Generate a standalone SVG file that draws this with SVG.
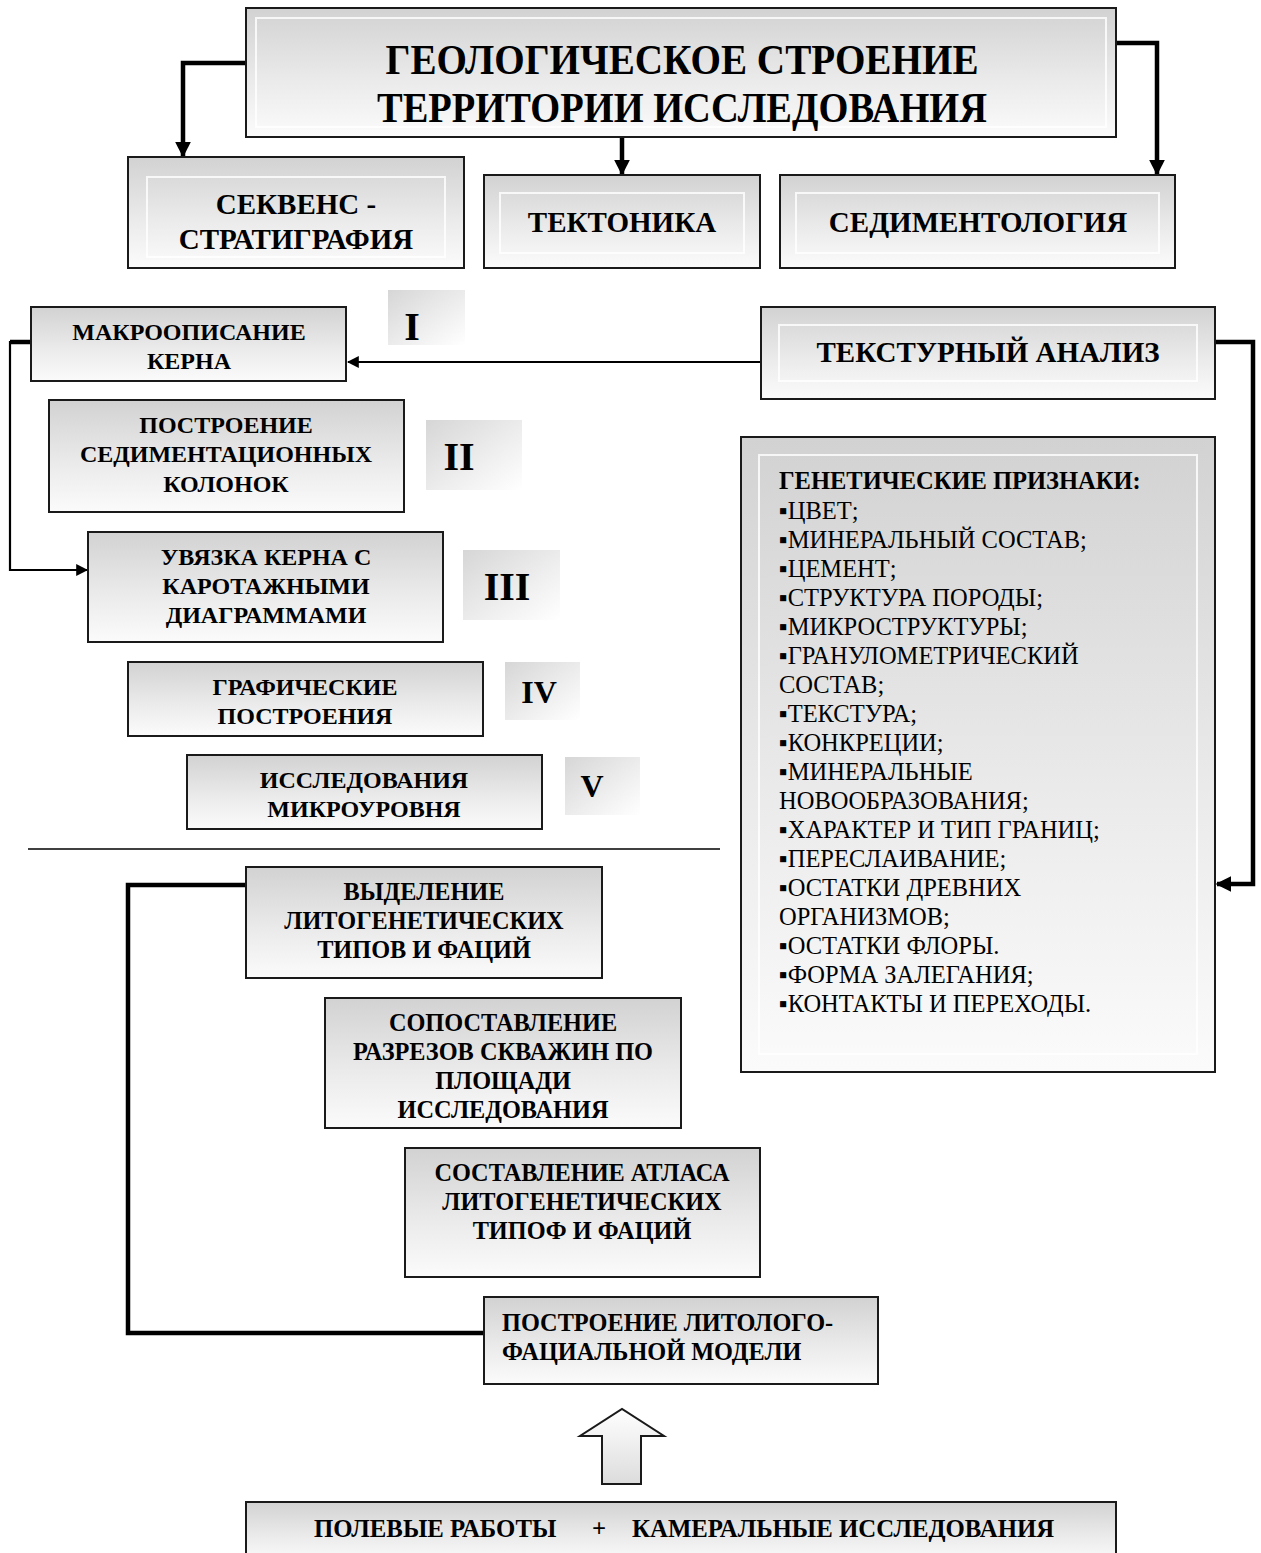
<svg xmlns="http://www.w3.org/2000/svg" width="1261" height="1553" viewBox="0 0 1261 1553">
<defs>
<linearGradient id="gBox" x1="0" y1="0" x2="0" y2="1">
<stop offset="0" stop-color="#d2d2d2"/>
<stop offset="0.55" stop-color="#eaeaea"/>
<stop offset="1" stop-color="#fbfbfb"/>
</linearGradient>
<linearGradient id="gNum" x1="0" y1="0" x2="1" y2="1">
<stop offset="0" stop-color="#d6d6d6"/>
<stop offset="0.6" stop-color="#efefef"/>
<stop offset="1" stop-color="#ffffff"/>
</linearGradient>
<linearGradient id="gArrow" x1="0" y1="0" x2="0" y2="1">
<stop offset="0" stop-color="#ffffff"/>
<stop offset="1" stop-color="#dcdcdc"/>
</linearGradient>
<marker id="ah" viewBox="0 0 10 10" refX="9" refY="5" markerWidth="16" markerHeight="16" markerUnits="userSpaceOnUse" orient="auto">
<path d="M0,0 L10,5 L0,10 Z" fill="#000"/>
</marker>
<marker id="ahs" viewBox="0 0 10 10" refX="9" refY="5" markerWidth="12" markerHeight="12" markerUnits="userSpaceOnUse" orient="auto">
<path d="M0,0 L10,5 L0,10 Z" fill="#000"/>
</marker>
</defs>
<style>
.box{fill:url(#gBox);stroke:#1a1a1a;stroke-width:2}
.inner{fill:none;stroke:#ffffff;stroke-width:2;opacity:0.8}
.num{fill:url(#gNum)}
.t{font-family:"Liberation Serif","Times New Roman",serif;font-weight:bold;fill:#000;text-anchor:middle}
.tl{font-family:"Liberation Serif","Times New Roman",serif;font-weight:bold;fill:#000}
.li{font-family:"Liberation Serif","Times New Roman",serif;fill:#000;font-size:24.5px}
.thick{fill:none;stroke:#000;stroke-width:4.5}
.thin{fill:none;stroke:#000;stroke-width:2.2}
</style>
<rect width="1261" height="1553" fill="#ffffff"/>

<g id="connectors">
<path class="thick" d="M246,63 H183 V156" marker-end="url(#ah)"/>
<path class="thick" d="M622,137 V174" marker-end="url(#ah)"/>
<path class="thick" d="M1116,43 H1157 V174" marker-end="url(#ah)"/>
<path class="thin" d="M761,362 H348" marker-end="url(#ahs)"/>
<path class="thick" d="M31,342 H10"/>
<path class="thin" d="M10,341 V570 H87" marker-end="url(#ahs)"/>
<path class="thick" d="M1215,342 H1253 V884 H1217" marker-end="url(#ah)"/>
<path class="thick" d="M484,1333 H128 V885 H246"/>
<line x1="28" y1="849" x2="720" y2="849" stroke="#000" stroke-width="1.5"/>
</g>

<g id="n-title">
<rect class="box" x="246" y="8" width="870" height="129"/>
<rect class="inner" x="256" y="18" width="850" height="109"/>
<text class="t" x="682" y="74" font-size="43" textLength="593" lengthAdjust="spacingAndGlyphs">ГЕОЛОГИЧЕСКОЕ  СТРОЕНИЕ</text>
<text class="t" x="682" y="122" font-size="43" textLength="610" lengthAdjust="spacingAndGlyphs">ТЕРРИТОРИИ ИССЛЕДОВАНИЯ</text>
</g>

<g id="n-sekvens">
<rect class="box" x="128" y="157" width="336" height="111"/>
<rect class="inner" x="147" y="177" width="298" height="80"/>
<text class="t" x="296" y="214" font-size="29">СЕКВЕНС -</text>
<text class="t" x="296" y="249" font-size="29">СТРАТИГРАФИЯ</text>
</g>

<g id="n-tekt">
<rect class="box" x="484" y="175" width="276" height="93"/>
<rect class="inner" x="500" y="193" width="244" height="60"/>
<text class="t" x="622" y="232" font-size="29">ТЕКТОНИКА</text>
</g>

<g id="n-sedim">
<rect class="box" x="780" y="175" width="395" height="93"/>
<rect class="inner" x="796" y="193" width="363" height="60"/>
<text class="t" x="978" y="232" font-size="29">СЕДИМЕНТОЛОГИЯ</text>
</g>

<g id="n-macro">
<rect class="box" x="31" y="307" width="315" height="74"/>
<text class="t" x="189" y="340" font-size="24">МАКРООПИСАНИЕ</text>
<text class="t" x="189" y="369" font-size="24">КЕРНА</text>
</g>
<g id="n-num1">
<rect class="num" x="388" y="290" width="77" height="55"/>
<text class="t" x="412" y="340" font-size="40">I</text>
</g>

<g id="n-sedcol">
<rect class="box" x="49" y="400" width="355" height="112"/>
<text class="t" x="226" y="433" font-size="24">ПОСТРОЕНИЕ</text>
<text class="t" x="226" y="462" font-size="24">СЕДИМЕНТАЦИОННЫХ</text>
<text class="t" x="226" y="492" font-size="24">КОЛОНОК</text>
</g>
<g id="n-num2">
<rect class="num" x="426" y="420" width="96" height="70"/>
<text class="t" x="459" y="470" font-size="40">II</text>
</g>

<g id="n-uvyazka">
<rect class="box" x="88" y="532" width="355" height="110"/>
<text class="t" x="266" y="565" font-size="24">УВЯЗКА КЕРНА С</text>
<text class="t" x="266" y="594" font-size="24">КАРОТАЖНЫМИ</text>
<text class="t" x="266" y="623" font-size="24">ДИАГРАММАМИ</text>
</g>
<g id="n-num3">
<rect class="num" x="463" y="550" width="97" height="70"/>
<text class="t" x="507" y="600" font-size="40">III</text>
</g>

<g id="n-graf">
<rect class="box" x="128" y="662" width="355" height="74"/>
<text class="t" x="305" y="695" font-size="24">ГРАФИЧЕСКИЕ</text>
<text class="t" x="305" y="724" font-size="24">ПОСТРОЕНИЯ</text>
</g>
<g id="n-num4">
<rect class="num" x="505" y="662" width="75" height="58"/>
<text class="t" x="539" y="703" font-size="32">IV</text>
</g>

<g id="n-micro">
<rect class="box" x="187" y="755" width="355" height="74"/>
<text class="t" x="364" y="788" font-size="24">ИССЛЕДОВАНИЯ</text>
<text class="t" x="364" y="817" font-size="24">МИКРОУРОВНЯ</text>
</g>
<g id="n-num5">
<rect class="num" x="565" y="757" width="75" height="58"/>
<text class="t" x="592" y="797" font-size="32">V</text>
</g>

<g id="n-texture">
<rect class="box" x="761" y="307" width="454" height="92"/>
<rect class="inner" x="779" y="325" width="418" height="56"/>
<text class="t" x="988" y="362" font-size="29">ТЕКСТУРНЫЙ АНАЛИЗ</text>
</g>

<g id="n-genetic">
<rect class="box" x="741" y="437" width="474" height="635"/>
<rect class="inner" x="759" y="455" width="438" height="599"/>
<text class="tl" x="779" y="489" font-size="24.5">ГЕНЕТИЧЕСКИЕ  ПРИЗНАКИ:</text>
<text class="li" x="779" y="519">▪ЦВЕТ;</text>
<text class="li" x="779" y="548">▪МИНЕРАЛЬНЫЙ СОСТАВ;</text>
<text class="li" x="779" y="577">▪ЦЕМЕНТ;</text>
<text class="li" x="779" y="606">▪СТРУКТУРА ПОРОДЫ;</text>
<text class="li" x="779" y="635">▪МИКРОСТРУКТУРЫ;</text>
<text class="li" x="779" y="664">▪ГРАНУЛОМЕТРИЧЕСКИЙ</text>
<text class="li" x="779" y="693">СОСТАВ;</text>
<text class="li" x="779" y="722">▪ТЕКСТУРА;</text>
<text class="li" x="779" y="751">▪КОНКРЕЦИИ;</text>
<text class="li" x="779" y="780">▪МИНЕРАЛЬНЫЕ</text>
<text class="li" x="779" y="809">НОВООБРАЗОВАНИЯ;</text>
<text class="li" x="779" y="838">▪ХАРАКТЕР И ТИП ГРАНИЦ;</text>
<text class="li" x="779" y="867">▪ПЕРЕСЛАИВАНИЕ;</text>
<text class="li" x="779" y="896">▪ОСТАТКИ ДРЕВНИХ</text>
<text class="li" x="779" y="925">ОРГАНИЗМОВ;</text>
<text class="li" x="779" y="954">▪ОСТАТКИ ФЛОРЫ.</text>
<text class="li" x="779" y="983">▪ФОРМА ЗАЛЕГАНИЯ;</text>
<text class="li" x="779" y="1012">▪КОНТАКТЫ И ПЕРЕХОДЫ.</text>
</g>

<g id="n-vydel">
<rect class="box" x="246" y="867" width="356" height="111"/>
<text class="t" x="424" y="900" font-size="24.3">ВЫДЕЛЕНИЕ</text>
<text class="t" x="424" y="929" font-size="24.3">ЛИТОГЕНЕТИЧЕСКИХ</text>
<text class="t" x="424" y="958" font-size="24.3">ТИПОВ И ФАЦИЙ</text>
</g>

<g id="n-sopost">
<rect class="box" x="325" y="998" width="356" height="130"/>
<text class="t" x="503" y="1031" font-size="24.3">СОПОСТАВЛЕНИЕ</text>
<text class="t" x="503" y="1060" font-size="24.3">РАЗРЕЗОВ СКВАЖИН ПО</text>
<text class="t" x="503" y="1089" font-size="24.3">ПЛОЩАДИ</text>
<text class="t" x="503" y="1118" font-size="24.3">ИССЛЕДОВАНИЯ</text>
</g>

<g id="n-atlas">
<rect class="box" x="405" y="1148" width="355" height="129"/>
<text class="t" x="582" y="1181" font-size="24.3">СОСТАВЛЕНИЕ АТЛАСА</text>
<text class="t" x="582" y="1210" font-size="24.3">ЛИТОГЕНЕТИЧЕСКИХ</text>
<text class="t" x="582" y="1239" font-size="24.3">ТИПОФ И ФАЦИЙ</text>
</g>

<g id="n-model">
<rect class="box" x="484" y="1297" width="394" height="87"/>
<text class="tl" x="502" y="1331" font-size="24.3">ПОСТРОЕНИЕ ЛИТОЛОГО-</text>
<text class="tl" x="502" y="1360" font-size="24.3">ФАЦИАЛЬНОЙ МОДЕЛИ</text>
</g>

<g id="n-blockarrow">
<path d="M602,1484 V1436 H580 L622,1409 L664,1436 H641 V1484 Z" fill="url(#gArrow)" stroke="#1a1a1a" stroke-width="2"/>
</g>

<g id="n-field">
<rect class="box" x="246" y="1502" width="870" height="60"/>
<text class="tl" x="314" y="1537" font-size="24.8">ПОЛЕВЫЕ РАБОТЫ</text>
<text class="t" x="599" y="1537" font-size="24.8">+</text>
<text class="tl" x="632" y="1537" font-size="24.8">КАМЕРАЛЬНЫЕ ИССЛЕДОВАНИЯ</text>
</g>
</svg>
